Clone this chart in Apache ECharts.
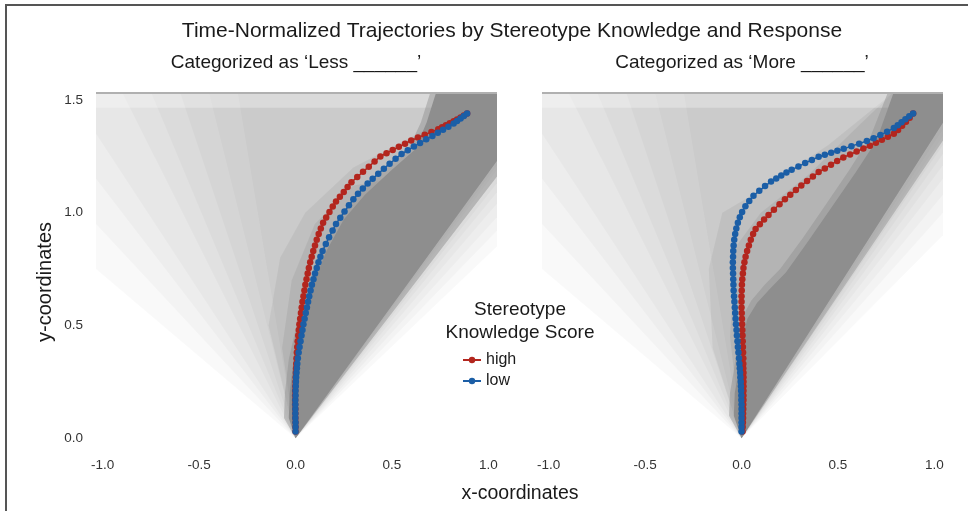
<!DOCTYPE html>
<html><head><meta charset="utf-8">
<script src="https://cdn.jsdelivr.net/npm/echarts@6/dist/echarts.min.js"></script>
<style>html,body{margin:0;padding:0;background:#fff}#c{width:968px;height:511px}</style>
</head><body><div id="c"></div>
<script>
const chartTitle = 'Time-Normalized Trajectories by Stereotype Knowledge and Response';
const panelTitles = ['Categorized as \u2018Less ______\u2019', 'Categorized as \u2018More ______\u2019'];
const legendTitle = ['Stereotype', 'Knowledge Score'];
const groups = ['high', 'low'];
const xTicks = [-1, -0.5, 0, 0.5, 1];
const yTicks = [0, 0.5, 1, 1.5];
const xRange = [-1.035, 1.045];
const yRange = [-0.03, 1.535];
const axisNames = ['x-coordinates', 'y-coordinates'];

// Panel 1: Categorized as 'Less'
const lessHigh = [[0.000,0.030],[0.000,0.050],[0.000,0.070],[-0.001,0.090],[-0.001,0.110],[-0.001,0.130],[-0.002,0.150],[-0.002,0.170],[-0.002,0.190],[-0.002,0.210],[-0.001,0.230],[0.000,0.250],[0.001,0.270],[0.002,0.290],[0.003,0.310],[0.004,0.330],[0.005,0.355],[0.007,0.380],[0.009,0.405],[0.011,0.430],[0.014,0.455],[0.017,0.480],[0.020,0.505],[0.024,0.530],[0.028,0.555],[0.032,0.580],[0.036,0.605],[0.041,0.630],[0.046,0.655],[0.051,0.680],[0.057,0.705],[0.063,0.730],[0.069,0.755],[0.076,0.780],[0.084,0.805],[0.092,0.830],[0.101,0.855],[0.110,0.880],[0.120,0.905],[0.131,0.930],[0.143,0.955],[0.159,0.979],[0.176,1.003],[0.193,1.027],[0.210,1.050],[0.230,1.071],[0.250,1.092],[0.270,1.114],[0.290,1.135],[0.320,1.158],[0.350,1.181],[0.380,1.204],[0.410,1.227],[0.440,1.249],[0.472,1.264],[0.504,1.278],[0.536,1.292],[0.568,1.306],[0.600,1.320],[0.635,1.333],[0.670,1.345],[0.705,1.358],[0.740,1.370],[0.760,1.379],[0.780,1.388],[0.800,1.396],[0.820,1.405],[0.838,1.413],[0.856,1.422],[0.873,1.431],[0.890,1.440]];
const lessLow = [[0.000,0.030],[0.000,0.050],[0.000,0.070],[-0.001,0.090],[-0.001,0.110],[-0.001,0.130],[-0.001,0.150],[-0.001,0.170],[0.000,0.190],[0.000,0.210],[0.001,0.230],[0.002,0.250],[0.003,0.270],[0.005,0.290],[0.007,0.310],[0.009,0.330],[0.012,0.355],[0.016,0.380],[0.021,0.405],[0.026,0.430],[0.031,0.455],[0.036,0.480],[0.041,0.505],[0.047,0.530],[0.053,0.555],[0.059,0.580],[0.065,0.605],[0.071,0.630],[0.078,0.655],[0.085,0.680],[0.093,0.705],[0.101,0.730],[0.110,0.755],[0.119,0.780],[0.129,0.805],[0.140,0.830],[0.157,0.861],[0.174,0.891],[0.192,0.921],[0.210,0.950],[0.232,0.978],[0.254,1.005],[0.277,1.033],[0.300,1.060],[0.324,1.084],[0.349,1.107],[0.374,1.129],[0.400,1.150],[0.429,1.173],[0.458,1.195],[0.488,1.217],[0.519,1.239],[0.550,1.260],[0.582,1.277],[0.614,1.293],[0.646,1.309],[0.678,1.325],[0.710,1.340],[0.738,1.354],[0.765,1.368],[0.793,1.381],[0.820,1.395],[0.838,1.406],[0.856,1.418],[0.873,1.429],[0.890,1.440]];

// Panel 2: Categorized as 'More'
const moreHigh = [[0.005,0.030],[0.006,0.050],[0.007,0.070],[0.008,0.090],[0.008,0.110],[0.009,0.130],[0.009,0.150],[0.010,0.170],[0.010,0.190],[0.010,0.210],[0.010,0.230],[0.010,0.250],[0.010,0.270],[0.010,0.290],[0.009,0.310],[0.009,0.330],[0.009,0.355],[0.008,0.380],[0.007,0.405],[0.006,0.430],[0.005,0.455],[0.004,0.480],[0.003,0.505],[0.002,0.530],[0.001,0.555],[0.000,0.580],[0.000,0.605],[0.000,0.630],[0.001,0.655],[0.002,0.680],[0.004,0.705],[0.007,0.730],[0.010,0.755],[0.015,0.780],[0.021,0.805],[0.029,0.830],[0.038,0.855],[0.048,0.880],[0.060,0.905],[0.073,0.928],[0.095,0.949],[0.117,0.970],[0.140,0.990],[0.168,1.013],[0.197,1.037],[0.225,1.060],[0.253,1.080],[0.282,1.100],[0.310,1.120],[0.340,1.140],[0.370,1.160],[0.400,1.180],[0.432,1.196],[0.464,1.213],[0.496,1.229],[0.528,1.245],[0.563,1.258],[0.597,1.271],[0.632,1.284],[0.666,1.297],[0.697,1.310],[0.728,1.323],[0.759,1.337],[0.790,1.350],[0.812,1.367],[0.833,1.385],[0.853,1.403],[0.872,1.421],[0.890,1.440]];
const moreLow = [[0.000,0.030],[0.000,0.050],[0.000,0.070],[0.000,0.090],[0.000,0.110],[0.000,0.130],[0.000,0.150],[-0.001,0.170],[-0.001,0.190],[-0.002,0.210],[-0.003,0.230],[-0.004,0.250],[-0.006,0.270],[-0.007,0.290],[-0.009,0.310],[-0.011,0.330],[-0.013,0.355],[-0.016,0.380],[-0.019,0.405],[-0.021,0.430],[-0.024,0.455],[-0.026,0.480],[-0.029,0.505],[-0.031,0.530],[-0.033,0.555],[-0.035,0.580],[-0.037,0.605],[-0.039,0.630],[-0.041,0.655],[-0.042,0.680],[-0.043,0.705],[-0.044,0.730],[-0.045,0.755],[-0.045,0.780],[-0.044,0.805],[-0.043,0.830],[-0.041,0.855],[-0.038,0.880],[-0.033,0.905],[-0.027,0.930],[-0.019,0.955],[-0.009,0.980],[0.003,1.003],[0.020,1.028],[0.040,1.052],[0.062,1.075],[0.092,1.097],[0.122,1.118],[0.153,1.138],[0.180,1.152],[0.206,1.165],[0.233,1.178],[0.260,1.190],[0.295,1.205],[0.330,1.220],[0.365,1.234],[0.400,1.248],[0.432,1.257],[0.465,1.266],[0.497,1.274],[0.530,1.283],[0.570,1.295],[0.610,1.306],[0.650,1.318],[0.685,1.330],[0.720,1.344],[0.755,1.359],[0.790,1.375],[0.810,1.388],[0.830,1.401],[0.850,1.414],[0.870,1.427],[0.890,1.440]];

// Backdrop regions (the cloud of individual trajectories)
const lessCloud = [
  [[0,0],[-1.035,0.75],[-1.035,1.535],[1.045,1.535],[1.045,0.85]],
  [[0,0],[-1.035,0.95],[-1.035,1.535],[1.045,1.535],[1.045,0.92]],
  [[0,0],[-1.035,1.15],[-1.035,1.535],[1.045,1.535],[1.045,0.98]],
  [[0,0],[-1.035,1.35],[-1.035,1.535],[1.045,1.535],[1.045,1.04]],
  [[0,0],[-0.9,1.535],[1.045,1.535],[1.045,1.09]],
  [[0,0],[-0.75,1.535],[1.045,1.535],[1.045,1.13]],
  [[0,0],[-0.6,1.535],[1.045,1.535],[1.045,1.16]],
  [[0,0],[-0.45,1.535],[1.045,1.535],[1.045,1.19]],
  [[0,0],[-0.3,1.535],[1.045,1.535],[1.045,1.21]],
  [[0,0],[-0.14,0.5],[-0.08,0.8],[0.05,1.0],[0.3,1.2],[1.045,1.535],[1.045,1.23]],
  [[0,0],[-0.07,0.4],[-0.02,0.7],[0.1,0.95],[0.3,1.12],[1.045,1.23]]
];
const lessHalo = [[0,0],[-0.06,0.09],[-0.055,0.2],[-0.035,0.35],[0.005,0.5],[0.065,0.68],[0.13,0.83],[0.22,0.97],[0.33,1.09],[0.47,1.2],[0.59,1.29],[0.65,1.4],[0.70,1.535],[1.045,1.535],[1.045,1.16]];
const lessCore = [[0,0],[-0.035,0.09],[-0.03,0.2],[-0.01,0.35],[0.03,0.5],[0.09,0.68],[0.16,0.83],[0.25,0.97],[0.36,1.08],[0.5,1.19],[0.62,1.28],[0.68,1.4],[0.73,1.535],[1.045,1.535],[1.045,1.23]];
const moreCloud = [
  [[0,0],[-1.035,0.75],[-1.035,1.535],[1.045,1.535],[1.045,0.9]],
  [[0,0],[-1.035,0.95],[-1.035,1.535],[1.045,1.535],[1.045,1.0]],
  [[0,0],[-1.035,1.15],[-1.035,1.535],[1.045,1.535],[1.045,1.08]],
  [[0,0],[-1.035,1.35],[-1.035,1.535],[1.045,1.535],[1.045,1.15]],
  [[0,0],[-0.9,1.535],[1.045,1.535],[1.045,1.21]],
  [[0,0],[-0.75,1.535],[1.045,1.535],[1.045,1.26]],
  [[0,0],[-0.6,1.535],[1.045,1.535],[1.045,1.3]],
  [[0,0],[-0.45,1.535],[1.045,1.535],[1.045,1.34]],
  [[0,0],[-0.3,1.535],[1.045,1.535],[1.045,1.37]],
  [[0,0],[-0.15,0.4],[-0.17,0.75],[-0.1,1.0],[0.1,1.1],[0.45,1.3],[0.79,1.535],[1.045,1.535],[1.045,1.4]],
  [[0,0],[-0.06,0.45],[-0.03,0.85],[0.1,1.0],[0.35,1.17],[0.6,1.38],[0.79,1.535],[1.045,1.535],[1.045,1.4]]
];
const moreHalo = [[0,0],[-0.065,0.1],[-0.06,0.2],[-0.04,0.3],[-0.015,0.45],[0.0,0.53],[0.05,0.61],[0.12,0.68],[0.2,0.75],[0.32,0.89],[0.44,1.04],[0.56,1.19],[0.67,1.34],[0.76,1.535],[1.045,1.535],[1.045,1.32]];
const moreCore = [[0,0],[-0.04,0.1],[-0.035,0.2],[-0.015,0.3],[0.008,0.45],[0.03,0.53],[0.08,0.6],[0.15,0.665],[0.23,0.735],[0.35,0.879],[0.47,1.027],[0.59,1.176],[0.70,1.32],[0.79,1.535],[1.045,1.535],[1.045,1.4]];
const topBand = [[-1.035,1.465],[1.045,1.465],[1.045,1.535],[-1.035,1.535]];

const FONT = '"Liberation Sans", Arial, Helvetica, sans-serif';
const RED = '#b3261e', BLUE = '#1b5ea6';
const CLOUD_ALPHA = [0.022, 0.022, 0.022, 0.022, 0.022, 0.022, 0.022, 0.022, 0.022, 0.05, 0.06];

const chart = echarts.init(document.getElementById('c'), null, {renderer: 'canvas'});

function backdrop(cloud, halo, core, gi) {
  return {
    type: 'custom', xAxisIndex: gi, yAxisIndex: gi, z: 1, silent: true, animation: false,
    data: [[0, 0]],
    renderItem: function (params, api) {
      if (params.dataIndex !== 0) return;
      const pts = function (poly) { return poly.map(function (p) { return api.coord(p); }); };
      const kids = [];
      cloud.forEach(function (poly, i) {
        kids.push({type: 'polygon', shape: {points: pts(poly)}, style: {fill: 'rgba(0,0,0,' + CLOUD_ALPHA[i] + ')'}});
      });
      kids.push({type: 'polygon', shape: {points: pts(topBand)}, style: {fill: 'rgba(255,255,255,0.3)'}});
      kids.push({type: 'polygon', shape: {points: pts(halo)}, style: {fill: 'rgba(142,142,142,0.45)'}});
      kids.push({type: 'polygon', shape: {points: pts(core)}, style: {fill: '#8e8e8e'}});
      const a = api.coord([xRange[0], yRange[1]]), b = api.coord([xRange[1], yRange[1]]);
      kids.push({type: 'line', shape: {x1: a[0], y1: a[1] + 1, x2: b[0], y2: b[1] + 1},
        style: {stroke: '#b0b0b0', lineWidth: 2}});
      return {type: 'group', children: kids};
    }
  };
}

function traj(name, data, color, gi) {
  return {
    type: 'line', name: name, data: data, xAxisIndex: gi, yAxisIndex: gi,
    symbol: 'circle', symbolSize: 6.5, showSymbol: true, color: color,
    lineStyle: {width: 1.5, color: color}, itemStyle: {color: color},
    z: 3, animation: false, silent: true
  };
}

const grids = [
  {left: 96, top: 92, width: 401, height: 353},
  {left: 542, top: 92, width: 401, height: 353}
];

const option = {
  backgroundColor: '#ffffff',
  animation: false,
  grid: grids,
  xAxis: [0, 1].map(function (i) {
    return {
      type: 'value', gridIndex: i, min: xRange[0], max: xRange[1],
      axisLine: {show: false}, axisTick: {show: false}, splitLine: {show: false},
      axisLabel: {customValues: xTicks, formatter: function (v) { return v.toFixed(1); },
        fontSize: 13.5, color: '#333', margin: 13, fontFamily: FONT}
    };
  }),
  yAxis: [0, 1].map(function (i) {
    return {
      type: 'value', gridIndex: i, min: yRange[0], max: yRange[1],
      axisLine: {show: false}, axisTick: {show: false}, splitLine: {show: false},
      axisLabel: {show: i === 0, customValues: yTicks, formatter: function (v) { return v.toFixed(1); },
        fontSize: 13.5, color: '#333', margin: 13, fontFamily: FONT}
    };
  }),
  legend: {
    data: groups, orient: 'vertical', left: 457, top: 347,
    itemWidth: 18, itemHeight: 8, itemGap: 5,
    textStyle: {fontSize: 16, color: '#1a1a1a', fontFamily: FONT},
    selectedMode: false
  },
  graphic: [
    {type: 'rect', shape: {x: 6, y: 5, width: 1000, height: 600}, style: {fill: 'none', stroke: '#555', lineWidth: 2}, silent: true, z: 10},
    {type: 'text', x: 512, y: 31, style: {text: chartTitle, font: '21px ' + FONT, fill: '#1a1a1a', textAlign: 'center', textVerticalAlign: 'middle'}},
    {type: 'text', x: 296, y: 63, style: {text: panelTitles[0], font: '19px ' + FONT, fill: '#1a1a1a', textAlign: 'center', textVerticalAlign: 'middle'}},
    {type: 'text', x: 742, y: 63, style: {text: panelTitles[1], font: '19px ' + FONT, fill: '#1a1a1a', textAlign: 'center', textVerticalAlign: 'middle'}},
    {type: 'text', x: 520, y: 310, style: {text: legendTitle[0], font: '19px ' + FONT, fill: '#1a1a1a', textAlign: 'center', textVerticalAlign: 'middle'}, z: 20},
    {type: 'text', x: 520, y: 333, style: {text: legendTitle[1], font: '19px ' + FONT, fill: '#1a1a1a', textAlign: 'center', textVerticalAlign: 'middle'}, z: 20},
    {type: 'text', x: 520, y: 494, style: {text: axisNames[0], font: '19.5px ' + FONT, fill: '#1a1a1a', textAlign: 'center', textVerticalAlign: 'middle'}},
    {type: 'text', x: 45, y: 282, rotation: Math.PI / 2, style: {text: axisNames[1], font: '20px ' + FONT, fill: '#1a1a1a', textAlign: 'center', textVerticalAlign: 'middle'}}
  ],
  series: [
    backdrop(lessCloud, lessHalo, lessCore, 0),
    backdrop(moreCloud, moreHalo, moreCore, 1),
    traj(groups[0], lessHigh, RED, 0),
    traj(groups[1], lessLow, BLUE, 0),
    traj(groups[0], moreHigh, RED, 1),
    traj(groups[1], moreLow, BLUE, 1)
  ]
};
chart.setOption(option);
</script></body></html>
